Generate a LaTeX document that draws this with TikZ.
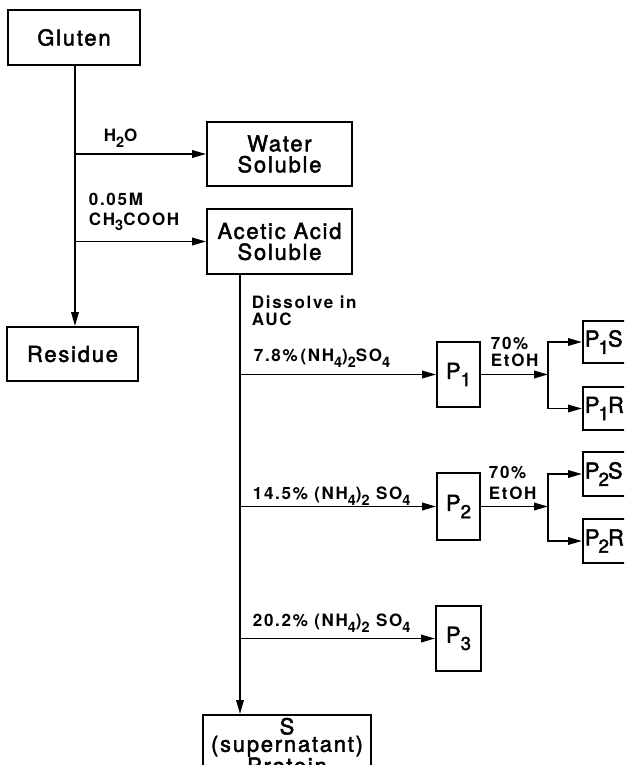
\documentclass[tikz,border=0pt]{standalone}
\usepackage{fontspec}
\setmainfont{TeX Gyre Heros}[LetterSpace=8]
\usepackage{graphicx}
\usetikzlibrary{arrows.meta,calc}
\newcommand{\sbs}[1]{\raisebox{-0.33em}{\scalebox{0.85}{#1}}}
\newcommand{\boxfont}{\fontsize{22}{21}\selectfont\addfontfeature{FakeBold=2}}
\newcommand{\sidefont}{\fontsize{22}{21}\selectfont\addfontfeature{FakeBold=2,LetterSpace=0}}
\newcommand{\labfont}[1]{\bfseries\fontsize{17}{#1}\selectfont\addfontfeature{LetterSpace=10}}
\begin{document}
\begin{tikzpicture}[x=1pt,y=-1pt, line width=1.8pt,
  >={Triangle[length=14pt,width=7.5pt]},
  box/.style={draw, rectangle, inner sep=0pt, font=\boxfont, align=center},
  side/.style={box, font=\sidefont, anchor=west, text width=52pt, inner xsep=2pt, align=left},
  lab/.style={font=\labfont{17}, align=left, inner sep=0pt, anchor=west}]
\useasboundingbox (0,0) rectangle (624,765);
\clip (0,0) rectangle (624,765);
\fill[white] (0,0) rectangle (624,765);

\node[box, minimum width=132pt, minimum height=55pt] (gluten) at (74,37.5) {Gluten};
\node[box, minimum width=145pt, minimum height=64pt] (water) at (279.5,154) {Water\\Soluble};
\node[box, minimum width=145pt, minimum height=65pt] (acetic) at (279.5,241.5) {Acetic Acid\\Soluble};
\node[box, minimum width=131pt, minimum height=54pt] (residue) at (72.5,354) {Residue};
\node[box, minimum width=43pt, minimum height=65pt] (p1) at (458.5,374.5) {P\sbs{1}};
\node[side, minimum height=42pt] (p1s) at (582,342) {P\kern-1pt\sbs{1}\kern-1pt S};
\node[side, minimum height=43pt] (p1r) at (582,408.5) {P\kern-1pt\sbs{1}\kern-1pt R};
\node[box, minimum width=43pt, minimum height=67pt] (p2) at (458.5,506.5) {P\sbs{2}};
\node[side, minimum height=44pt] (p2s) at (582,474) {P\kern-1pt\sbs{2}\kern-1pt S};
\node[side, minimum height=44pt] (p2r) at (582,541) {P\kern-1pt\sbs{2}\kern-1pt R};
\node[box, minimum width=45pt, minimum height=65pt] (p3) at (458.5,638.5) {P\sbs{3}};
\node[box, minimum width=168pt, anchor=north, inner ysep=3pt, font={\boxfont\fontsize{22}{16}\selectfont}] (sprot) at (287,714) {S\\(supernatant)\\Protein};

\coordinate (m) at ([xshift=1pt]gluten.south);
\draw[->] (m) -- (m |- residue.north);
\draw[->] (m |- water.west) -- (water.west);
\draw[->] (m |- acetic.west) -- (acetic.west);
\coordinate (a) at ([xshift=-39.5pt]acetic.south);
\draw[->] (a) -- (a |- sprot.north);
\draw[->] (a |- p1.west) -- (p1.west);
\draw[->] (a |- p2.west) -- (p2.west);
\draw[->] (a |- p3.west) -- (p3.west);
\coordinate (b1) at (548,374.5);
\coordinate (b2) at (548,506.5);
\draw[->] (p1.east) -- (b1);
\draw[<->] (p1s.west) -| (b1) |- (p1r.west);
\draw[->] (p2.east) -- (b2);
\draw[<->] (p2s.west) -| (b2) |- (p2r.west);

\node[lab] (lh2o) at (103,138) {H\sbs{2}O};
\node[lab, font=\labfont{20}] (lacid) at (88,212) {0.05M\\CH\sbs{3}COOH};
\node[lab] (ldis) at (251,310.5) {Dissolve in\\AUC};
\node[lab] (l78) at (253,358) {7.8\%\,(NH\sbs{4})\sbs{2}SO\sbs{4}};
\node[lab] (le1) at (490,352) {70\%\\EtOH};
\node[lab] (l145) at (252,496) {14.5\% (NH\sbs{4})\sbs{2} SO\sbs{4}};
\node[lab, font=\labfont{21}] (le2) at (488,483) {70\%\\EtOH};
\node[lab] (l202) at (252,623) {20.2\% (NH\sbs{4})\sbs{2} SO\sbs{4}};
\end{tikzpicture}
\end{document}
